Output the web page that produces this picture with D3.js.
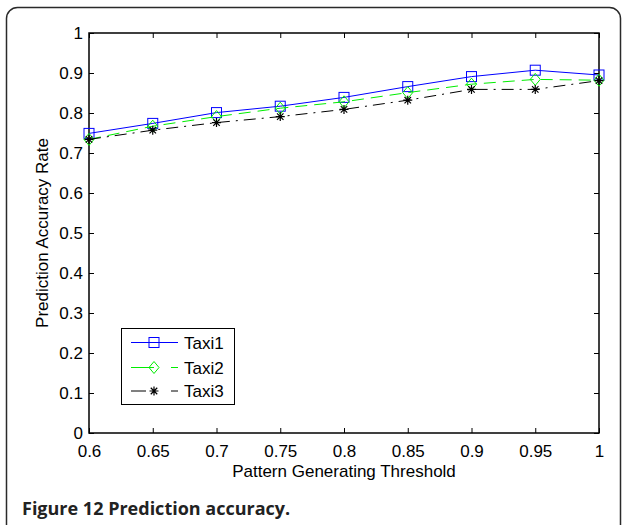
<!DOCTYPE html>
<html lang="en">
<head>
<meta charset="UTF-8">
<title>Prediction accuracy</title>
<script src="https://d3js.org/d3.v7.min.js"></script>
<style>
  html, body { margin: 0; padding: 0; background: #fff; }
  svg text { font-family: "Liberation Sans", Arial, sans-serif; }
</style>
</head>
<body>
<div id="chart"></div>
<script>
// data
const thresholds = [0.6, 0.65, 0.7, 0.75, 0.8, 0.85, 0.9, 0.95, 1];
const taxi1 = [0.749, 0.774, 0.801, 0.817, 0.839, 0.866, 0.891, 0.907, 0.895];
const taxi2 = [0.734, 0.767, 0.791, 0.812, 0.828, 0.851, 0.872, 0.884, 0.882];
const taxi3 = [0.734, 0.757, 0.776, 0.791, 0.809, 0.832, 0.859, 0.859, 0.881];
const seriesNames = ["Taxi1", "Taxi2", "Taxi3"];
const xTicks = [0.6, 0.65, 0.7, 0.75, 0.8, 0.85, 0.9, 0.95, 1];
const yTicks = [0, 0.1, 0.2, 0.3, 0.4, 0.5, 0.6, 0.7, 0.8, 0.9, 1];

const width = 624, height = 525;
const plot = { left: 89, right: 599, top: 33, bottom: 433 };
const fontSize = 17;

const svg = d3.select("#chart").append("svg")
    .attr("width", width).attr("height", height);

// outer rounded frame
svg.append("rect")
    .attr("x", 6.5).attr("y", 7.5)
    .attr("width", 614).attr("height", 540)
    .attr("rx", 11).attr("ry", 11)
    .attr("fill", "none").attr("stroke", "#2a2a2a").attr("stroke-width", 1.5);

const x = d3.scaleLinear().domain([0.6, 1]).range([plot.left, plot.right]);
const y = d3.scaleLinear().domain([0, 1]).range([plot.bottom, plot.top]);

const fmt = d => String(+d.toFixed(2));
const tickLen = 5;

// axes with inward ticks (matlab style, box on)
const gx = svg.append("g").attr("transform", `translate(0,${plot.bottom})`)
    .call(d3.axisBottom(x).tickValues(xTicks).tickFormat(fmt).tickSize(-tickLen));
const gxTop = svg.append("g").attr("transform", `translate(0,${plot.top})`)
    .call(d3.axisTop(x).tickValues(xTicks).tickFormat("").tickSize(-tickLen));
const gy = svg.append("g").attr("transform", `translate(${plot.left},0)`)
    .call(d3.axisLeft(y).tickValues(yTicks).tickFormat(fmt).tickSize(-tickLen).tickPadding(6));
const gyRight = svg.append("g").attr("transform", `translate(${plot.right},0)`)
    .call(d3.axisRight(y).tickValues(yTicks).tickFormat("").tickSize(-tickLen));

[gx, gxTop, gy, gyRight].forEach(g => {
    g.select(".domain").remove();
    g.selectAll(".tick line").attr("stroke", "#000").attr("stroke-width", 1);
    g.selectAll("text").attr("fill", "#000").attr("font-size", fontSize);
});
gx.selectAll("text").attr("y", 24).attr("dy", null);

svg.append("rect")
    .attr("x", plot.left).attr("y", plot.top)
    .attr("width", plot.right - plot.left).attr("height", plot.bottom - plot.top)
    .attr("fill", "none").attr("stroke", "#000").attr("stroke-width", 1.5);

// axis titles
svg.append("text")
    .attr("x", (plot.left + plot.right) / 2).attr("y", 477)
    .attr("text-anchor", "middle").attr("font-size", fontSize)
    .text("Pattern Generating Threshold");
svg.append("text")
    .attr("transform", `translate(48,${(plot.top + plot.bottom) / 2}) rotate(-90)`)
    .attr("text-anchor", "middle").attr("font-size", fontSize)
    .text("Prediction Accuracy Rate");

// series
const series = [
    { name: seriesNames[0], values: taxi1, color: "#0000ff", dash: null, legendDash: null, marker: "square" },
    { name: seriesNames[1], values: taxi2, color: "#00ee00", dash: "12,7", legendDash: "23,17,8", marker: "diamond" },
    { name: seriesNames[2], values: taxi3, color: "#000000", dash: "12,6,2,6", legendDash: "15,25,7", marker: "star" }
];

const line = d3.line().x(d => x(d[0])).y(d => y(d[1]));

function drawMarker(g, type, cx, cy, color) {
    if (type === "square") {
        g.append("rect").attr("x", cx - 5).attr("y", cy - 5).attr("width", 10).attr("height", 10)
            .attr("fill", "none").attr("stroke", color).attr("stroke-width", 1);
    } else if (type === "diamond") {
        g.append("path").attr("d", `M${cx},${cy - 6}L${cx + 5},${cy}L${cx},${cy + 6}L${cx - 5},${cy}Z`)
            .attr("fill", "none").attr("stroke", color).attr("stroke-width", 1);
    } else {
        const r = 4.5;
        const p = d3.path();
        p.moveTo(cx - r, cy); p.lineTo(cx + r, cy);
        p.moveTo(cx, cy - r); p.lineTo(cx, cy + r);
        const q = r * 0.72;
        p.moveTo(cx - q, cy - q); p.lineTo(cx + q, cy + q);
        p.moveTo(cx - q, cy + q); p.lineTo(cx + q, cy - q);
        g.append("path").attr("d", p.toString()).attr("stroke", color).attr("stroke-width", 1.2);
    }
}

series.forEach(s => {
    const pts = thresholds.map((t, i) => [t, s.values[i]]);
    const g = svg.append("g");
    g.append("path").datum(pts).attr("d", line)
        .attr("fill", "none").attr("stroke", s.color).attr("stroke-width", 1)
        .attr("stroke-dasharray", s.dash);
    pts.forEach(p => drawMarker(g, s.marker, x(p[0]), y(p[1]), s.color));
});

// legend
const legend = svg.append("g");
legend.append("rect")
    .attr("x", 121.5).attr("y", 328.5).attr("width", 113).attr("height", 76)
    .attr("fill", "#fff").attr("stroke", "#000").attr("stroke-width", 1);
const rowY = [342.5, 367.5, 391];
series.forEach((s, i) => {
    legend.append("line")
        .attr("x1", 131).attr("x2", 178).attr("y1", rowY[i]).attr("y2", rowY[i])
        .attr("stroke", s.color).attr("stroke-width", 1)
        .attr("stroke-dasharray", s.legendDash);
    drawMarker(legend, s.marker, 154, rowY[i], s.color);
    legend.append("text").attr("x", 184).attr("y", rowY[i]).attr("dy", "0.36em")
        .attr("font-size", fontSize).text(s.name);
});

// caption
const cap = svg.append("text").attr("x", 22).attr("y", 515)
    .attr("font-size", 18).attr("fill", "#222").attr("font-weight", "bold")
    .style("font-family", "'Open Sans', 'Noto Sans', sans-serif");
cap.append("tspan").text("Figure 12 ");
cap.append("tspan").text("Prediction accuracy.");
</script>
</body>
</html>
